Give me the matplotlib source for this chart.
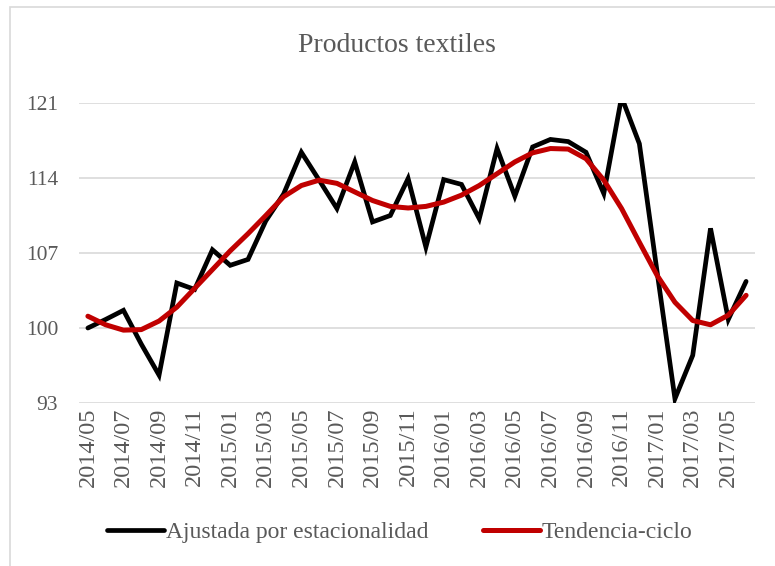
import matplotlib
matplotlib.use("Agg")
import matplotlib.pyplot as plt
from matplotlib.patches import Rectangle

months = [f"{2014 + (4 + i) // 12}/{(4 + i) % 12 + 1:02d}" for i in range(38)]

ajustada = [100.0, 100.8, 101.65, 98.5, 95.6, 104.2, 103.6, 107.3, 105.85, 106.4,
            110.0, 112.5, 116.4, 113.8, 111.15, 115.5, 109.9, 110.5, 113.95, 107.55,
            113.85, 113.4, 110.2, 116.75, 112.3, 116.9, 117.6, 117.4, 116.4, 112.55,
            121.55, 117.2, 105.2, 93.4, 97.45, 109.3, 100.8, 104.35]

tendencia = [101.1, 100.3, 99.8, 99.85, 100.65, 101.95, 103.7, 105.45, 107.2, 108.8,
             110.5, 112.25, 113.3, 113.8, 113.5, 112.7, 111.9, 111.35, 111.2, 111.35,
             111.75, 112.4, 113.3, 114.4, 115.5, 116.35, 116.75, 116.7, 115.8, 113.8,
             111.15, 108.0, 104.9, 102.4, 100.7, 100.3, 101.2, 103.05]

yticks = [93, 100, 107, 114, 121]

plt.rcParams['font.family'] = ['Liberation Serif', 'DejaVu Serif']
gray = '#595959'

W, H = 775, 566
fig = plt.figure(figsize=(W / 100, H / 100), dpi=100)
ax = fig.add_axes([79 / W, 1 - 403 / H, (755 - 79) / W, (403 - 103) / H])

x = list(range(len(months)))
ax.plot(x, ajustada, color='#000000', lw=3.4, solid_capstyle='round', solid_joinstyle='miter',
        label='Ajustada por estacionalidad', zorder=3)
ax.plot(x, tendencia, color='#C00000', lw=3.6, solid_capstyle='round',
        label='Tendencia-ciclo', zorder=4)

ax.set_xlim(-0.5, len(months) - 0.5)
ax.set_ylim(93, 121)
ax.set_yticks(yticks)
ax.set_yticklabels([str(v) for v in yticks])
ax.set_xticks(x[::2])
ax.set_xticklabels(months[::2], rotation=90)
ax.tick_params(axis='y', length=0, pad=15, labelsize=15.5, labelcolor=gray)
ax.tick_params(axis='x', length=0, pad=3, labelsize=17.5, labelcolor=gray)
for s in ax.spines.values():
    s.set_visible(False)
ax.grid(axis='y', color='#d9d9d9', lw=1.2, zorder=0)
ax.set_axisbelow(True)

fig.text(397 / W, 1 - 45 / H, 'Productos textiles', ha='center', va='center',
         fontsize=20, color=gray)

leg = fig.legend(loc='center', bbox_to_anchor=(400 / W, 1 - 532 / H), ncol=2, frameon=False,
                 fontsize=17, handlelength=2.4, columnspacing=2.3, handletextpad=0.1,
                 labelcolor=gray)

fig.patches.append(Rectangle((10 / W, -0.1), 1.2, 1 - 7 / H + 0.1, transform=fig.transFigure,
                             fill=False, edgecolor='#d9d9d9', lw=1.2))

fig.savefig('out.png', dpi=100)
